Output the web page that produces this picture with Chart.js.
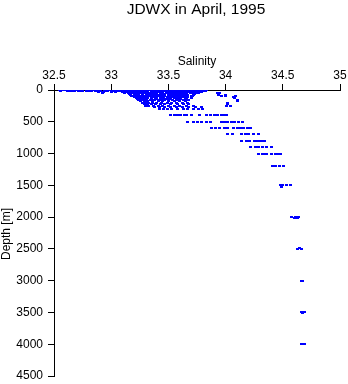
<!DOCTYPE html>
<html>
<head>
<meta charset="utf-8">
<script src="https://cdn.jsdelivr.net/npm/chart.js@4/dist/chart.umd.min.js"></script>
<style>
  body { margin: 0; background: #fff; }
</style>
</head>
<body>
<canvas id="profileChart" width="348" height="384"></canvas>
<script>
// tick labels
const salinityTicks = [32.5, 33, 33.5, 34, 34.5, 35];
const depthTicks = [0, 500, 1000, 1500, 2000, 2500, 3000, 3500, 4000, 4500];

// sample depths [m] and the salinities measured at each one
const depthLevels = [0, 5, 10, 15, 20, 30, 40, 50, 60, 75, 90, 100, 110, 125, 140, 150, 175, 200, 225, 250, 275, 300,
  400, 500, 600, 700, 800, 810, 900, 1000, 1010, 1200, 1500, 1530, 2000, 2010, 2480, 2500, 3000, 3010, 3500, 3510, 3990, 4000];

const salinityByLevel = [
  [32.55, 32.61, 32.66, 32.72, 32.79, 32.8, 32.88, 32.98, 33.01, 33.04, 33.07, 33.1, 33.14, 33.18, 33.24, 33.29, 33.33, 33.38, 33.44, 33.47, 33.52, 33.58, 33.63, 33.68, 33.72, 33.78, 33.83],
  [32.58, 32.7, 32.84, 32.94, 33.02, 33.08, 33.13, 33.17, 33.22, 33.28, 33.34, 33.39, 33.45, 33.51, 33.56, 33.62, 33.69, 33.75, 33.81],
  [32.56, 32.63, 32.68, 32.71, 32.78, 32.87, 32.91, 32.97, 33.0, 33.03, 33.06, 33.09, 33.12, 33.16, 33.2, 33.26, 33.31, 33.36, 33.41, 33.46, 33.5, 33.55, 33.61, 33.66, 33.7, 33.76, 33.82],
  [32.65, 32.75, 32.83, 33.0, 33.06, 33.11, 33.16, 33.21, 33.25, 33.32, 33.37, 33.42, 33.48, 33.53, 33.59, 33.64, 33.69, 33.77],
  [32.62, 32.67, 32.72, 32.8, 32.86, 32.9, 32.95, 33.02, 33.05, 33.08, 33.11, 33.15, 33.19, 33.22, 33.27, 33.3, 33.35, 33.4, 33.43, 33.49, 33.54, 33.57, 33.6, 33.65, 33.71, 33.74, 33.8],
  [32.89, 32.93, 33.0, 33.04, 33.1, 33.13, 33.17, 33.21, 33.25, 33.28, 33.32, 33.37, 33.42, 33.45, 33.51, 33.56, 33.62, 33.67, 33.73, 33.79],
  [33.12, 33.16, 33.2, 33.24, 33.28, 33.31, 33.35, 33.4, 33.44, 33.49, 33.54, 33.58, 33.63, 33.7, 33.76, 33.93],
  [32.92, 33.15, 33.18, 33.22, 33.26, 33.29, 33.33, 33.36, 33.39, 33.43, 33.48, 33.53, 33.57, 33.6, 33.64, 33.69, 33.75, 33.95],
  [33.16, 33.2, 33.23, 33.27, 33.32, 33.35, 33.39, 33.44, 33.47, 33.52, 33.56, 33.61, 33.66, 33.73],
  [33.17, 33.21, 33.24, 33.27, 33.31, 33.34, 33.38, 33.41, 33.45, 33.5, 33.54, 33.59, 33.63, 33.67, 33.72, 33.94, 34.0],
  [33.18, 33.22, 33.25, 33.29, 33.34, 33.38, 33.42, 33.46, 33.51, 33.55, 33.6, 33.64, 33.7, 34.0],
  [33.19, 33.23, 33.26, 33.3, 33.33, 33.37, 33.4, 33.44, 33.47, 33.52, 33.56, 33.61, 33.66, 33.71, 33.96, 34.0, 34.09],
  [33.2, 33.24, 33.27, 33.31, 33.36, 33.4, 33.45, 33.49, 33.53, 33.58, 33.62, 33.67, 34.07],
  [33.22, 33.25, 33.28, 33.32, 33.35, 33.39, 33.43, 33.46, 33.51, 33.55, 33.6, 33.65, 33.7, 34.08],
  [33.23, 33.26, 33.3, 33.35, 33.4, 33.44, 33.48, 33.52, 33.57, 33.61, 33.66],
  [33.24, 33.27, 33.31, 33.34, 33.38, 33.42, 33.47, 33.5, 33.54, 33.58, 33.63, 33.68, 34.1],
  [33.26, 33.29, 33.32, 33.36, 33.41, 33.45, 33.5, 33.55, 33.6, 33.65, 34.1],
  [33.27, 33.3, 33.33, 33.36, 33.4, 33.44, 33.49, 33.53, 33.57, 33.62, 33.67, 34.02],
  [33.29, 33.32, 33.35, 33.39, 33.43, 33.47, 33.52, 33.58, 33.63, 33.68, 34.02],
  [33.3, 33.33, 33.37, 33.41, 33.45, 33.5, 33.55, 33.6, 33.66, 33.72, 34.01, 34.04],
  [33.38, 33.42, 33.47, 33.52, 33.57, 33.62, 33.68, 33.74, 33.79],
  [33.42, 33.46, 33.49, 33.53, 33.58, 33.63, 33.67, 33.72, 33.76, 33.8],
  [33.52, 33.55, 33.58, 33.61, 33.64, 33.66, 33.7, 33.77, 33.83, 33.87, 33.9, 33.93, 33.96, 33.99, 34.01],
  [33.67, 33.72, 33.75, 33.79, 33.83, 33.87, 33.96, 33.99, 34.02, 34.05, 34.08, 34.11, 34.15],
  [33.88, 33.91, 33.95, 33.99, 34.02, 34.07, 34.1, 34.13, 34.16, 34.19, 34.22],
  [34.02, 34.06, 34.14, 34.17, 34.2, 34.24, 34.29],
  [34.14, 34.18, 34.21, 34.25, 34.28, 34.31, 34.34],
  [34.2, 34.3],
  [34.22, 34.26, 34.29, 34.32, 34.36, 34.4],
  [34.29, 34.32, 34.36, 34.4, 34.44, 34.48],
  [34.33, 34.45],
  [34.41, 34.44, 34.47, 34.51],
  [34.48, 34.5, 34.53, 34.57],
  [34.49],
  [34.58, 34.61, 34.64],
  [34.6, 34.63],
  [34.645],
  [34.63, 34.66],
  [34.66, 34.67],
  [34.67],
  [34.66, 34.68, 34.69],
  [34.67],
  [34.67],
  [34.66, 34.68, 34.69]
];

const FONT = "'Liberation Sans', Arial, Helvetica, sans-serif";

let points = [];
for (let i = 0; i < depthLevels.length; i++) {
  for (let s of salinityByLevel[i]) {
    points.push({x: s, y: depthLevels[i]});
  }
}

// small 3x2 blue dash, like the original plot marks
const marker = document.createElement("canvas");
marker.width = 3;
marker.height = 2;
const mctx = marker.getContext("2d");
mctx.fillStyle = "#0000ff";
mctx.fillRect(0, 0, 3, 2);

const textPlugin = {
  id: "extraText",
  afterDraw(chart) {
    const ctx = chart.ctx;
    ctx.save();
    ctx.fillStyle = "#000";
    ctx.font = "15.5px " + FONT;
    ctx.textAlign = "center";
    ctx.textBaseline = "alphabetic";
    ctx.fillText("JDWX in April, 1995", 196, 13.5);

    ctx.font = "12px " + FONT;
    ctx.translate(10, 234);
    ctx.rotate(-Math.PI / 2);
    ctx.fillText("Depth [m]", 0, 0);
    ctx.restore();
  }
};

const chartElement = document.getElementById("profileChart");
new Chart(chartElement, {
  type: "scatter",
  data: {
    datasets: [{
      data: points,
      pointStyle: marker,
      pointRadius: 1.5,
      backgroundColor: "#0000ff",
      borderColor: "#0000ff"
    }]
  },
  options: {
    responsive: false,
    animation: false,
    layout: { padding: { top: 28, right: 8, bottom: 8, left: 0 } },
    plugins: {
      legend: { display: false },
      tooltip: { enabled: false }
    },
    scales: {
      x: {
        type: "linear",
        position: "top",
        min: salinityTicks[0],
        max: salinityTicks[salinityTicks.length - 1],
        afterBuildTicks: (scale) => { scale.ticks = salinityTicks.map(v => ({value: v})); },
        ticks: {
          color: "#000",
          font: { family: FONT, size: 12 },
          padding: 1,
          maxRotation: 0,
          callback: (v) => String(v)
        },
        grid: { drawOnChartArea: false, color: "#000", tickLength: 6 },
        border: { color: "#000", width: 1 },
        title: {
          display: true,
          text: "Salinity",
          color: "#000",
          font: { family: FONT, size: 12 },
          padding: { top: 26, bottom: 0 }
        },
        afterFit: (scale) => { scale.height = 62; }
      },
      y: {
        type: "linear",
        reverse: true,
        min: depthTicks[0],
        max: depthTicks[depthTicks.length - 1],
        afterBuildTicks: (scale) => { scale.ticks = depthTicks.map(v => ({value: v})); },
        ticks: {
          color: "#000",
          font: { family: FONT, size: 12 },
          padding: 5,
          callback: (v) => String(v)
        },
        grid: { drawOnChartArea: false, color: "#000", tickLength: 6 },
        border: { color: "#000", width: 1 },
        afterFit: (scale) => {
          scale.width = 54;
          // keep the label overhang from shrinking the plot height
          scale.paddingTop = 0;
          scale.paddingBottom = 0;
        }
      }
    }
  },
  plugins: [textPlugin]
});
</script>
</body>
</html>
